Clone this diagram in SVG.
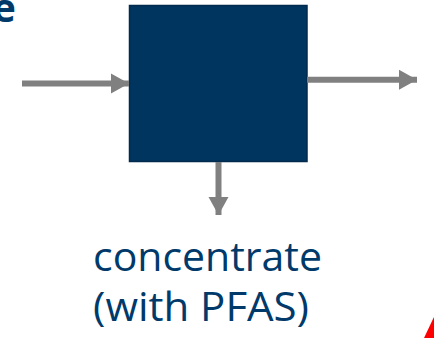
<svg xmlns="http://www.w3.org/2000/svg" width="434" height="338" viewBox="0 0 434 338">
<style>
.conn{stroke:#808080;stroke-width:6;fill:none}
.lbl{font-family:"Open Sans","Noto Sans",sans-serif;fill:#003a6b;font-size:40px}
</style>
<defs>
<marker id="ah" markerUnits="userSpaceOnUse" markerWidth="22" markerHeight="22" refX="18" refY="10" orient="auto" overflow="visible">
<path d="M0,0 L18,10 L0,20 Z" fill="#808080"/>
</marker>
</defs>
<rect width="434" height="338" fill="#ffffff"/>
<g id="title">
<text x="16" y="22" text-anchor="end" font-family="'Open Sans','Noto Sans',sans-serif" font-weight="bold" font-size="40" fill="#003a6b">e</text>
</g>
<g id="process">
<rect x="129.5" y="5.5" width="177.5" height="156" fill="#00355f" stroke="#022a4c" stroke-width="1.5"/>
</g>
<g id="connectors">
<line class="conn" x1="22" y1="83.5" x2="129" y2="83.5" marker-end="url(#ah)"/>
<line class="conn" x1="307" y1="79.7" x2="417" y2="79.7" marker-end="url(#ah)"/>
<line class="conn" x1="218.5" y1="162" x2="218.5" y2="215" marker-end="url(#ah)"/>
</g>
<g id="concentrate">
<text class="lbl" x="93" y="271" textLength="229" lengthAdjust="spacingAndGlyphs">concentrate</text>
<text class="lbl" x="93" y="321" textLength="216" lengthAdjust="spacingAndGlyphs">(with PFAS)</text>
</g>
<polygon points="433,319 434,317 434,338 424,338" fill="#ff0000"/>
</svg>
